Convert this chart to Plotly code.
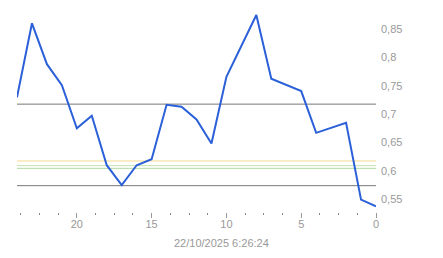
import plotly.graph_objects as go

x_vals = list(range(24, -1, -1))
y_vals = [0.7295, 0.860, 0.788, 0.751, 0.675, 0.697, 0.610, 0.575, 0.610, 0.6206,
          0.7164, 0.713, 0.6906, 0.6483, 0.7658, 0.8203, 0.8747, 0.7623, 0.7518,
          0.7406, 0.667, 0.6758, 0.6847, 0.5494, 0.5376]

ref_levels = [0.7176, 0.574]
ref_colors = ["#777777", "#777777"]
band_levels = [0.6175, 0.6093, 0.6045]
band_colors = ["#f3d98f", "#c4e5b0", "#b0daa0"]

x_ticks = [20, 15, 10, 5, 0]
y_ticks = [0.55, 0.6, 0.65, 0.7, 0.75, 0.8, 0.85]
y_tick_text = ["0,55", "0,6", "0,65", "0,7", "0,75", "0,8", "0,85"]
date_label = "22/10/2025 6:26:24"

fig = go.Figure()
for lv, c in zip(band_levels, band_colors):
    fig.add_trace(go.Scatter(x=[24, 0], y=[lv, lv], mode="lines",
                             line=dict(color=c, width=1), hoverinfo="skip", showlegend=False))
for lv, c in zip(ref_levels, ref_colors):
    fig.add_trace(go.Scatter(x=[24, 0], y=[lv, lv], mode="lines",
                             line=dict(color=c, width=1), hoverinfo="skip", showlegend=False))
fig.add_trace(go.Scatter(x=x_vals, y=y_vals, mode="lines",
                         line=dict(color="#2b60d8", width=2), showlegend=False))

font = dict(family="Liberation Sans, Arial, sans-serif", size=11, color="#999999")
fig.update_layout(
    width=443, height=258,
    margin=dict(l=17, r=67, t=4, b=46),
    paper_bgcolor="white", plot_bgcolor="white",
    separators=",.",
    font=font,
    xaxis=dict(range=[24, 0], showgrid=False, zeroline=False, showline=False,
               tickvals=x_ticks, ticks="outside", ticklen=5, tickcolor="#999999",
               tickfont=font, ticklabelstandoff=-3,
               minor=dict(dtick=1.25, tick0=0, ticks="outside", ticklen=2,
                          tickcolor="#888888", tickwidth=1)),
    yaxis=dict(range=[0.5276, 0.894], side="right", showgrid=False, zeroline=False,
               showline=False, tickvals=y_ticks, ticktext=y_tick_text, ticks="",
               tickfont=font, ticklabelstandoff=4),
    annotations=[dict(text=date_label, xref="paper", yref="paper",
                      x=(221.5 - 17) / 359, y=-0.112, showarrow=False,
                      xanchor="center", yanchor="top", font=font)],
)
fig.write_html("out.html")
